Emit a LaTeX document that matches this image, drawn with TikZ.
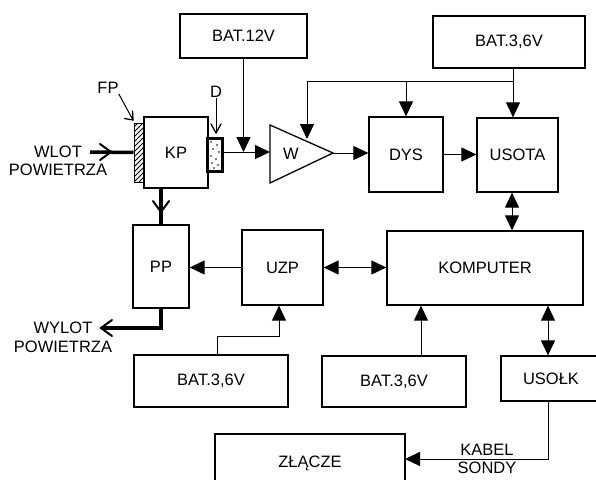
\documentclass[tikz,border=0pt]{standalone}
\usepackage{fontspec}
\setmainfont{Liberation Sans}
\usetikzlibrary{arrows.meta}
\begin{document}
\begin{tikzpicture}[x=1pt,y=-1pt,
  box/.style={draw, line width=1.3pt, inner sep=0pt, font=\fontsize{16.5}{18}\selectfont},
  lbl/.style={inner sep=0pt, font=\fontsize{16.5}{18}\selectfont, align=center},
  wire/.style={line width=1pt},
  tri/.tip={Triangle[length=15pt,width=14pt]},
  arr/.style={wire, -tri},
  darr/.style={wire, tri-tri},
  air/.style={line width=3.5pt},
  barb/.style={line width=2pt, line cap=round, line join=miter},
  thinbarb/.style={line width=1.3pt, line cap=round}
]
\useasboundingbox (0,0) rectangle (596,479);
\clip (0,0) rectangle (596,479);

% boxes
\node[box, minimum width=127pt, minimum height=44pt] (bat12) at (243.5,36) {BAT.12V};
\node[box, minimum width=152pt, minimum height=52pt] (batT) at (509,42) {BAT.3,6V};
\node[box, minimum width=64pt, minimum height=71pt] (kp) at (176,152.5) {KP};
\node[draw, line width=1pt, minimum width=10pt, minimum height=59pt, inner sep=0pt] (fp) at (139,152.5) {};
\begin{scope}
  \clip (134,123) rectangle (144,182);
  \foreach \i in {0,...,15} \draw[line width=0.9pt] (134,122+5*\i) -- (144,112+5*\i);
\end{scope}
\node[draw, line width=2.8pt, minimum width=15.5pt, minimum height=33.5pt, inner sep=0pt] (dd) at (215,155) {};
\foreach \p in {(211,142),(217,145),(213,149),(219,152),(211,156),(216,159),(212,163),(218,165),(214,168)}
  \fill \p circle (0.9pt);

% amplifier W
\coordinate (Win) at (270,152);
\coordinate (Wout) at (333,153);
\coordinate (Wfeed) at (307,139);
\draw[line width=1.3pt] (270,125) -- (Wout) -- (270,183) -- cycle;
\node[lbl] (wlbl) at (291,154) {W};

\node[box, minimum width=74pt, minimum height=75pt] (dys) at (406,154.5) {DYS};
\node[box, minimum width=81pt, minimum height=74pt] (usota) at (517.5,155) {USOTA};
\node[box, minimum width=196pt, minimum height=74pt] (komp) at (485,268) {KOMPUTER};
\node[box, minimum width=81pt, minimum height=75pt] (uzp) at (282.5,267.5) {UZP};
\node[box, minimum width=56pt, minimum height=83pt] (pp) at (161,266.5) {PP};
\node[box, minimum width=154pt, minimum height=52pt] (batL) at (211,381) {BAT.3,6V};
\node[box, minimum width=144pt, minimum height=51pt] (batM) at (394,381.5) {BAT.3,6V};
\node[box, minimum width=100pt, minimum height=45pt] (usolk) at (551,378.5) {USOŁK};
\node[box, minimum width=190pt, minimum height=58pt] (zlacze) at (310,463) {ZŁĄCZE};

% labels
\node[lbl] (wlot) at (58,161) {WLOT\\POWIETRZA};
\node[lbl] (wylot) at (63,337.5) {WYLOT\\[1pt]POWIETRZA};
\node[lbl] (kabel) at (487,459) {KABEL\\SONDY};
\node[lbl] (fplbl) at (108,88) {FP};
\node[lbl] (dlbl) at (216,92) {D};

% label arrows (open chevron heads)
\coordinate (fptip) at (133,120);
\draw[wire] (fplbl.south east) -- (fptip);
\draw[thinbarb] (124.5,118.5) -- (fptip) -- (132.5,111);
\coordinate (dtip) at (216,133);
\draw[wire] (dlbl.south) -- (dtip);
\draw[thinbarb] (211,124) -- (dtip) -- (221,124);

% air paths (thick, open chevron heads)
\coordinate (wl) at (90,152);
\coordinate (wlm) at (111,152);
\draw[air] (wl) -- (fp.west);
\draw[barb] (100,144) -- (wlm) -- (100,160);
\coordinate (kpm) at (161,212);
\draw[air] (pp.north |- kp.south) -- (pp.north);
\draw[barb] (153,201) -- (kpm) -- (169,201);
\coordinate (wy) at (101,328);
\draw[air] (pp.south) |- (wy);
\draw[barb] (112,320) -- (wy) -- (112,336);

% signal connectors
\draw[arr] (dd.east |- Win) -- (Win);
\draw[arr] (bat12.south) -- (bat12.south |- Win);
\draw[arr] (Wout) -- (Wout -| dys.west);
\draw[arr] (dys.east) -- (dys.east -| usota.west);
\coordinate (tj) at (513,81);
\draw[wire] ([xshift=4pt]batT.south) -- (tj);
\draw[arr] (tj) -- (tj |- usota.north);
\draw[arr] (tj) -| (Wfeed);
\draw[arr] (tj -| dys.north) -- (dys.north);
\draw[darr] ([xshift=-5.5pt]usota.south) -- ([xshift=-5.5pt]usota.south |- komp.north);
\draw[arr] (uzp.west) -- (uzp.west -| pp.east);
\draw[darr] (uzp.east) -- (uzp.east -| komp.west);
\coordinate (bl1) at (217,336);
\draw[arr] ([xshift=6pt]batL.north) -- (bl1) -| ([xshift=-3.5pt]uzp.south);
\draw[arr] ([xshift=27pt]batM.north) -- ([xshift=27pt]batM.north |- komp.south);
\draw[darr] ([xshift=-3pt]usolk.north |- komp.south) -- ([xshift=-3pt]usolk.north);
\coordinate (zj) at (405,459);
\draw[arr] ([xshift=-3pt]usolk.south) |- (zj);
\end{tikzpicture}
\end{document}
